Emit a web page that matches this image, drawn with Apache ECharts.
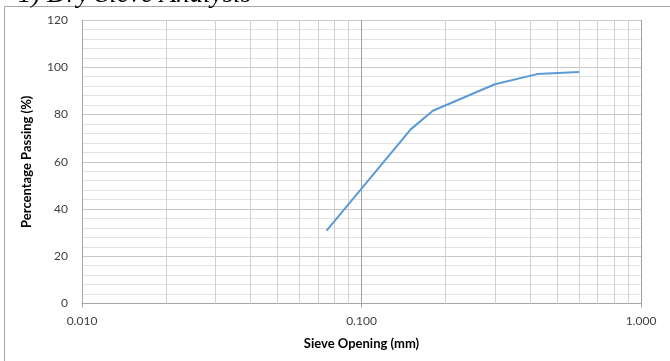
<!DOCTYPE html>
<html>
<head>
<meta charset="utf-8">
<script src="https://cdn.jsdelivr.net/npm/echarts@6/dist/echarts.min.js"></script>
<style>
  html, body { margin: 0; padding: 0; background: #ffffff; }
  #chart { width: 670px; height: 361px; }
</style>
</head>
<body>
<div id="chart"></div>
<script>
// Dry sieve analysis: sieve opening (mm) vs. cumulative percentage passing
const sieveSizes = [0.075, 0.15, 0.18, 0.3, 0.425, 0.6];
const percentPassing = [30.8, 73.7, 81.6, 92.8, 97.1, 98.0];

// Intermediate decade lines (2..9 within each decade) for the log grid
const decadeSteps = [0.02, 0.03, 0.04, 0.05, 0.06, 0.07, 0.08, 0.09,
                     0.2, 0.3, 0.4, 0.5, 0.6, 0.7, 0.8, 0.9];
const xTicks = [0.01, 0.1, 1];
const yTicks = [0, 20, 40, 60, 80, 100, 120];

const chart = echarts.init(document.getElementById('chart'), null, { renderer: 'canvas' });

const labelFont = 'Lato, "Open Sans", sans-serif';

chart.setOption({
  animation: false,
  backgroundColor: '#ffffff',
  grid: { left: 82, right: 29, top: 20, bottom: 57.5, containLabel: false },
  graphic: [
    {
      type: 'rect',
      shape: { x: 4.5, y: 6.5, width: 700, height: 400 },
      style: { fill: 'none', stroke: '#a6a6a6', lineWidth: 1 },
      silent: true, z: -1
    },
    {
      type: 'text',
      left: 18, top: -19,
      style: {
        text: '1) Dry Sieve Analysis',
        font: 'italic 27px "Liberation Serif", "Times New Roman", serif',
        fill: '#000000'
      },
      silent: true
    }
  ],
  xAxis: {
    type: 'log',
    logBase: 10,
    min: xTicks[0],
    max: xTicks[xTicks.length - 1],
    name: 'Sieve Opening (mm)',
    nameLocation: 'middle',
    nameGap: 34,
    nameTextStyle: { fontFamily: labelFont, fontWeight: 'bold', fontSize: 13, color: '#000000' },
    axisLine: { show: true, lineStyle: { color: '#a6a6a6', width: 1 } },
    axisTick: { show: true, length: 4, inside: false, lineStyle: { color: '#a6a6a6' } },
    axisLabel: {
      margin: 12,
      fontFamily: labelFont, fontSize: 12, color: '#404040',
      formatter: v => Number(v).toFixed(3)
    },
    splitLine: { show: true, lineStyle: { color: '#a0a0a0', width: 1 } }
  },
  yAxis: {
    type: 'value',
    min: yTicks[0],
    max: yTicks[yTicks.length - 1],
    interval: 20,
    name: 'Percentage Passing (%)',
    nameLocation: 'middle',
    nameGap: 49,
    nameRotate: 90,
    nameTextStyle: { fontFamily: labelFont, fontWeight: 'bold', fontSize: 13, color: '#000000' },
    axisLine: { show: true, lineStyle: { color: '#a6a6a6', width: 1 } },
    axisTick: { show: false },
    axisLabel: { margin: 14, fontFamily: labelFont, fontSize: 12, color: '#404040' },
    splitLine: { show: true, lineStyle: { color: '#c6c6c6', width: 1 } },
    minorTick: { show: false, splitNumber: 5 },
    minorSplitLine: { show: true, lineStyle: { color: '#e2e2e2', width: 1 } }
  },
  series: [
    {
      // carries the intermediate vertical grid lines of the log axis
      type: 'line',
      data: [],
      silent: true,
      z: 1,
      markLine: {
        silent: true,
        symbol: ['none', 'none'],
        label: { show: false },
        animation: false,
        lineStyle: { type: 'solid', color: '#d0d0d0', width: 1 },
        data: decadeSteps.map(v => ({ xAxis: v }))
      }
    },
    {
      type: 'line',
      data: sieveSizes.map((s, i) => [s, percentPassing[i]]),
      showSymbol: false,
      symbol: 'none',
      z: 5,
      lineStyle: { color: '#5b9bd5', width: 2 }
    }
  ]
});
</script>
</body>
</html>
